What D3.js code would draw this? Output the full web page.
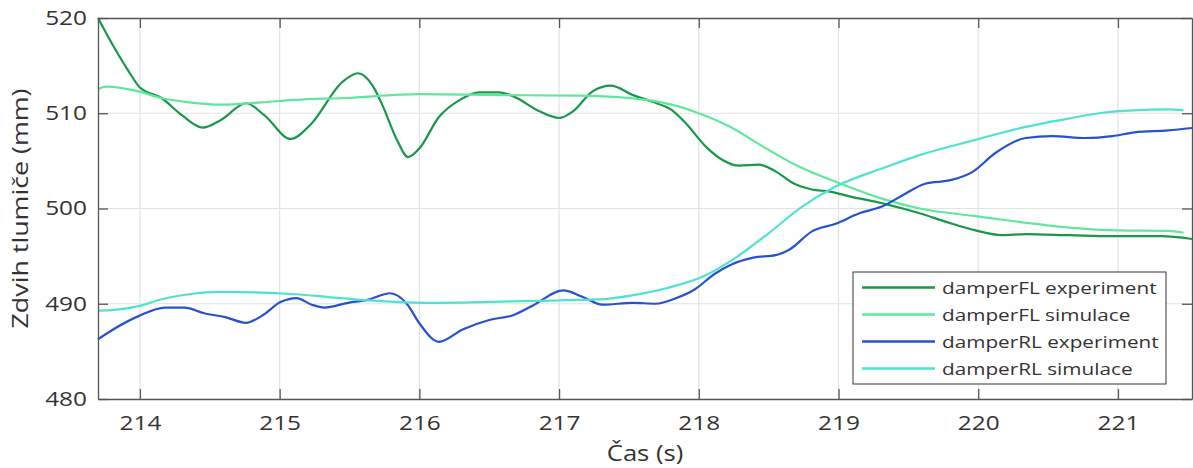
<!DOCTYPE html>
<html>
<head>
<meta charset="utf-8">
<title>Zdvih tlumiče</title>
<script src="https://cdn.jsdelivr.net/npm/d3@7"></script>
<style>
  body { margin: 0; background: #fff; }
  text { font-family: "Open Sans", "Noto Sans", sans-serif; fill: #333; }
</style>
</head>
<body>
<svg width="1193" height="468"></svg>
<script>
// series: [time s, zdvih mm]
var flExperiment = [
  [213.70, 520.0], [213.82, 516.8], [213.92, 514.4], [214.00, 512.7], [214.155, 511.6],
  [214.30, 509.8], [214.45, 508.5], [214.58, 509.3], [214.76, 511.05], [214.89, 509.8],
  [215.08, 507.3], [215.22, 508.8], [215.45, 513.3], [215.56, 514.2], [215.67, 512.8],
  [215.74, 510.7], [215.84, 507.2], [215.92, 505.4], [216.00, 506.3], [216.14, 509.6],
  [216.29, 511.4], [216.43, 512.2], [216.57, 512.2], [216.67, 511.8], [216.86, 510.2],
  [217.00, 509.5], [217.10, 510.2], [217.24, 512.3], [217.37, 512.9], [217.53, 511.9],
  [217.67, 511.2], [217.81, 510.3], [217.91, 508.9], [218.05, 506.5], [218.17, 505.1],
  [218.29, 504.5], [218.43, 504.6], [218.55, 503.9], [218.67, 502.7], [218.81, 502.0],
  [218.93, 501.8], [219.10, 501.2], [219.27, 500.7], [219.46, 500.0], [219.58, 499.5],
  [219.77, 498.6], [219.98, 497.7], [220.17, 497.2], [220.34, 497.3], [220.65, 497.2],
  [220.96, 497.1], [221.31, 497.1], [221.53, 496.8]
];
var flSimulace = [
  [213.70, 512.55], [213.76, 512.8], [213.99, 512.3], [214.15, 511.6], [214.35, 511.15],
  [214.58, 510.9], [214.87, 511.15], [215.11, 511.4], [215.47, 511.6], [216.00, 512.0],
  [216.62, 511.9], [217.15, 511.85], [217.62, 511.4], [217.86, 510.7], [218.00, 510.0],
  [218.22, 508.6], [218.46, 506.5], [218.69, 504.6], [218.98, 502.8], [219.34, 500.9],
  [219.58, 500.0], [219.98, 499.2], [220.29, 498.6], [220.65, 498.0],
  [221.01, 497.7], [221.36, 497.65], [221.47, 497.45]
];
var rlExperiment = [
  [213.70, 486.27], [213.82, 487.4], [213.99, 488.7], [214.18, 489.6], [214.32, 489.6],
  [214.46, 489.0], [214.61, 488.6], [214.76, 488.0], [214.87, 488.7], [215.01, 490.2],
  [215.12, 490.6], [215.23, 489.9], [215.32, 489.6], [215.49, 490.1], [215.63, 490.4],
  [215.79, 491.1], [215.91, 490.0], [216.00, 487.95], [216.14, 486.0], [216.31, 487.3],
  [216.50, 488.3], [216.67, 488.8], [216.81, 489.8], [217.03, 491.4], [217.17, 490.7],
  [217.31, 489.9], [217.53, 490.1], [217.69, 490.0], [217.84, 490.6], [217.97, 491.5],
  [218.11, 493.1], [218.23, 494.1], [218.39, 494.85], [218.55, 495.1], [218.65, 495.7],
  [218.81, 497.6], [218.98, 498.4], [219.15, 499.5], [219.31, 500.2], [219.46, 501.4],
  [219.62, 502.6], [219.81, 503.0], [219.96, 503.85], [220.12, 505.8], [220.34, 507.4],
  [220.53, 507.6], [220.77, 507.4], [220.96, 507.6], [221.12, 508.0], [221.36, 508.2],
  [221.53, 508.45]
];
var rlSimulace = [
  [213.70, 489.27], [213.82, 489.35], [213.99, 489.75], [214.15, 490.45], [214.35, 491.0],
  [214.58, 491.25], [214.82, 491.2], [215.11, 491.0], [215.35, 490.7], [215.58, 490.4],
  [215.82, 490.2], [216.10, 490.1], [216.81, 490.3], [217.29, 490.45], [217.53, 490.9],
  [217.76, 491.6], [218.03, 492.85], [218.27, 494.9], [218.50, 497.4], [218.74, 500.2],
  [218.98, 502.3], [219.34, 504.35], [219.58, 505.6], [219.98, 507.2], [220.29, 508.4],
  [220.65, 509.45], [220.89, 510.05], [221.12, 510.3], [221.36, 510.4], [221.47, 510.3]
];

var xTicks = [214, 215, 216, 217, 218, 219, 220, 221];
var yTicks = [480, 490, 500, 510, 520];
var seriesNames = ["damperFL experiment", "damperFL simulace", "damperRL experiment", "damperRL simulace"];
var seriesColors = ["#18994a", "#5fe89c", "#2752cf", "#50e2d0"];
var seriesData = [flExperiment, flSimulace, rlExperiment, rlSimulace];

var svg = d3.select("svg");
var pLeft = 98, pTop = 18, pRight = 1192, pBottom = 399;
var sx = 1.22; // glyphs in the picture are a bit wide

var x = d3.scaleLinear().domain([213.7, 221.53]).range([pLeft, pRight]);
var y = d3.scaleLinear().domain([480, 520]).range([pBottom, pTop]);

// grid
svg.append("g").selectAll("line")
    .data(xTicks)
    .enter().append("line")
    .attr("x1", d => x(d)).attr("x2", d => x(d))
    .attr("y1", pTop).attr("y2", pBottom)
    .attr("stroke", "#e2e2e2").attr("stroke-width", 1.2);
svg.append("g").selectAll("line")
    .data(yTicks.slice(1, -1))
    .enter().append("line")
    .attr("x1", pLeft).attr("x2", pRight)
    .attr("y1", d => y(d)).attr("y2", d => y(d))
    .attr("stroke", "#e2e2e2").attr("stroke-width", 1.2);

// lines
var line = d3.line()
    .x(d => x(d[0]))
    .y(d => y(d[1]))
    .curve(d3.curveMonotoneX);

svg.append("g").selectAll("path")
    .data(seriesData)
    .enter().append("path")
    .attr("fill", "none")
    .attr("stroke", (d, i) => seriesColors[i])
    .attr("stroke-width", 2.2)
    .attr("d", line);

// axes
function styleAxis(g) {
    g.select(".domain").attr("stroke", "#555").attr("stroke-width", 1.3);
    g.selectAll(".tick line").attr("stroke", "#555").attr("stroke-width", 1.3);
}

var gx = svg.append("g")
    .attr("transform", "translate(0," + pBottom + ")")
    .call(d3.axisBottom(x).tickValues(xTicks).tickSize(-10).tickSizeOuter(0).tickFormat(d3.format("d")))
    .call(styleAxis);
gx.selectAll("text")
    .attr("font-size", 20)
    .attr("x", 0)
    .attr("y", 17)
    .attr("dy", "0.71em")
    .attr("transform", "scale(" + sx + ",1)")
    .attr("fill", "#333");

svg.append("g")
    .attr("transform", "translate(0," + pTop + ")")
    .call(d3.axisTop(x).tickValues(xTicks).tickSize(-10).tickSizeOuter(0).tickFormat(""))
    .call(styleAxis);

var gy = svg.append("g")
    .attr("transform", "translate(" + pLeft + ",0)")
    .call(d3.axisLeft(y).tickValues(yTicks).tickSize(-10).tickSizeOuter(0).tickFormat(d3.format("d")))
    .call(styleAxis);
gy.selectAll("text")
    .attr("font-size", 20)
    .attr("x", -11 / sx)
    .attr("transform", "scale(" + sx + ",1)")
    .attr("fill", "#333");

svg.append("g")
    .attr("transform", "translate(" + pRight + ",0)")
    .call(d3.axisRight(y).tickValues(yTicks).tickSize(-10).tickSizeOuter(0).tickFormat(""))
    .call(styleAxis);

// axis titles
svg.append("text")
    .attr("transform", "translate(" + ((pLeft + pRight) / 2) + ",461) scale(" + sx + ",1)")
    .attr("text-anchor", "middle")
    .attr("font-size", 21)
    .attr("fill", "#333")
    .text("Čas (s)");

svg.append("text")
    .attr("transform", "translate(28," + ((pTop + pBottom) / 2) + ") rotate(-90) scale(" + sx + ",1)")
    .attr("text-anchor", "middle")
    .attr("font-size", 22)
    .attr("fill", "#333")
    .text("Zdvih tlumiče (mm)");

// legend
var legend = svg.append("g").attr("transform", "translate(853,272)");
legend.append("rect")
    .attr("width", 313).attr("height", 112)
    .attr("fill", "#fff").attr("stroke", "#333").attr("stroke-width", 1);
var items = legend.selectAll(".item")
    .data(seriesNames)
    .enter().append("g")
    .attr("class", "item")
    .attr("transform", (d, i) => "translate(0," + (15.5 + i * 27) + ")");
items.append("line")
    .attr("x1", 9).attr("x2", 82)
    .attr("stroke", (d, i) => seriesColors[i])
    .attr("stroke-width", 2.4);
items.append("text")
    .attr("transform", "translate(89,6) scale(" + sx + ",1)")
    .attr("font-size", 17)
    .attr("fill", "#222")
    .text(d => d);
</script>
</body>
</html>
